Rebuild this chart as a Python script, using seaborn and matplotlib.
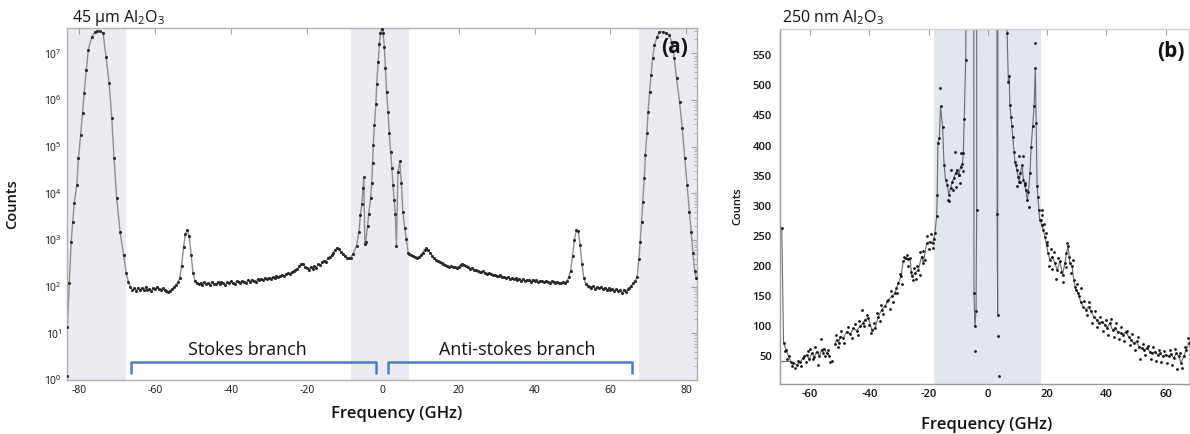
import numpy as np
import pandas as pd
import matplotlib
matplotlib.use("Agg")
import matplotlib.pyplot as plt
import seaborn as sns

# ---------------- (a) 45 um Al2O3 : full Brillouin spectrum (log counts) ----------------
laser_l_x = [-83.3, -83.1, -82.6, -82.1, -81.7, -81.3, -80.6, -80.2, -79.6, -79.1, -78.7,
             -78.1, -77.6, -76.7, -75.8, -75.2, -74.6, -73.7, -72.9, -72.1, -71.4, -70.8,
             -70.1, -69.2, -68.3, -67.6, -67.0]
laser_l_y = [1.2, 14, 120, 900, 2400, 6300, 1.5e4, 5.6e4, 1.8e5, 5.2e5, 1.4e6,
             4.5e6, 1.2e7, 2.2e7, 2.9e7, 3.0e7, 3.0e7, 2.75e7, 8.3e6, 2.3e6, 4.1e5, 5.6e4,
             7.8e3, 1.45e3, 470, 200, 123]

stokes_x = list(np.arange(-66.5, -8.9, 0.5))
stokes_y = [98, 85, 92, 80, 95, 84, 93, 86, 97, 83, 90, 82, 94, 88, 99, 90, 87, 92, 84, 80,
            78, 82, 90, 97, 110, 125, 150, 280, 700, 1350, 1650, 1200, 480, 200, 135, 118,
            112, 120, 108, 124, 115, 121, 110, 126, 117, 112, 123, 114, 128, 119, 108, 125,
            118, 130, 121, 115, 132, 124, 119, 135, 127, 122, 138, 129, 141, 133, 127, 145,
            137, 148, 140, 152, 144, 156, 149, 162, 155, 168, 160, 172, 178, 170, 186, 195,
            188, 205, 214, 226, 245, 280, 310, 300, 270, 248, 232, 262, 240, 275, 255, 300,
            285, 330, 360, 345, 410, 440, 470, 540, 620, 690, 640, 560, 500, 450, 420, 405]

rayleigh_x = [-8.5, -7.8, -6.9, -6.3, -5.9, -5.5, -5.2, -5.0, -4.7, -4.5, -4.0, -3.7, -3.2,
              -2.9, -2.7, -2.5, -2.2, -1.8, -1.6, -1.2, -0.9, -0.6, -0.3, 0.1, 0.4, 0.7,
              1.0, 1.4, 1.7, 2.1, 2.4, 2.7, 3.0, 3.3, 3.6, 4.0, 4.5, 4.9, 5.3, 5.8, 6.2, 6.7]
rayleigh_y = [420, 510, 760, 1450, 3400, 6000, 1.3e4, 2.2e4, 830, 900, 2000, 3700, 7800,
              1.7e4, 4.4e4, 1.07e5, 2.9e5, 8.1e5, 2.2e6, 6.6e6, 1.6e7, 2.75e7, 3.4e7, 2.75e7,
              1.4e7, 4.9e6, 1.5e6, 5.5e5, 2.0e5, 7.6e4, 3.5e4, 1.5e4, 7100, 3700, 760,
              2.8e4, 4.9e4, 1.7e4, 3900, 1800, 1070, 540]

antistokes_x = list(np.arange(7.0, 66.6, 0.5))
antistokes_y = [500, 480, 450, 430, 415, 440, 470, 540, 620, 660, 610, 530, 460, 410, 380,
                350, 335, 320, 300, 290, 278, 268, 275, 258, 262, 248, 270, 295, 305, 290,
                275, 258, 245, 252, 232, 225, 218, 210, 205, 212, 198, 190, 196, 184, 178,
                182, 172, 168, 175, 160, 163, 150, 158, 146, 152, 143, 150, 138, 148, 135,
                145, 131, 142, 137, 129, 140, 133, 138, 126, 135, 130, 124, 133, 127, 122,
                131, 125, 120, 128, 122, 118, 126, 121, 130, 160, 220, 450, 1000, 1600, 1550,
                800, 300, 150, 115, 105, 100, 94, 103, 90, 98, 92, 99, 88, 95, 85, 93, 86, 91,
                82, 88, 80, 86, 72, 84, 76, 88, 95, 105, 118, 135]

laser_r_x = [67.0, 67.5, 67.8, 68.2, 68.5, 68.9, 69.2, 69.6, 69.9, 70.3, 70.7, 71.1, 71.6,
             72.2, 72.9, 73.8, 74.6, 75.5, 76.2, 76.8, 77.4, 78.2, 78.9, 79.6, 80.2, 80.8,
             81.3, 81.7, 82.2, 82.6]
laser_r_y = [160, 400, 890, 2400, 6500, 2.1e4, 6.6e4, 2.0e5, 5.5e5, 1.5e6, 3.5e6, 7.9e6,
             1.5e7, 2.2e7, 2.9e7, 2.9e7, 2.75e7, 2.5e7, 1.7e7, 7.9e6, 3.0e6, 9.1e5, 2.5e5,
             5.6e4, 1.5e4, 3900, 1450, 540, 220, 150]

shade_a = [(-90, -67.6), (-8.4, 6.8), (67.4, 90)]
stokes_span = [-66.3, -1.8]
antistokes_span = [1.3, 65.8]
freq_ticks_a = [-80, -60, -40, -20, 0, 20, 40, 60, 80]

# ---------------- (b) 250 nm Al2O3 : Brillouin spectrum (linear counts) ----------------
seg1_x = [-69.6, -69.0, -68.1, -67.3, -66.5, -65.7, -64.5, -63.4, -62.3, -61.2, -60.3,
          -59.5, -58.6, -57.8, -56.9, -56.1, -55.2, -54.4, -53.5]
seg1_y = [263, 71, 60, 49, 40, 38, 35, 40, 46, 52, 44, 54, 48, 57, 50, 60, 62, 54, 49]

seg2_x = [-51.6, -51.0, -50.4, -49.9, -48.8, -47.7, -46.5, -45.4, -44.3, -43.2, -42.3,
          -41.5, -40.4, -39.2, -38.1, -37.0, -35.9, -34.7, -33.6, -32.5, -31.4, -30.3,
          -29.3, -28.6, -27.7, -26.9, -26.3, -25.7, -24.6, -23.5, -22.4, -21.8, -20.7,
          -19.6, -18.7, -17.9, -17.3, -17.1, -16.9, -16.4, -16.0, -15.3, -14.8, -14.3,
          -13.7, -13.2, -12.6, -12.0, -11.5, -10.9, -10.4, -9.8, -9.2, -8.6, -8.3, -8.0,
          -7.5, -7.0, -5.0, -4.7, -4.4, -4.0, -3.8, -3.5, 2.9, 3.1, 3.3, 3.6, 6.2, 6.5,
          6.9, 7.2, 7.4, 7.8, 8.1, 8.4, 8.8, 9.1, 9.4, 9.8, 10.2, 10.6, 11.0, 11.5, 12.0,
          12.4, 12.8, 13.3, 13.7, 14.2, 14.6, 15.1, 15.6, 16.0, 16.3, 16.6, 17.2, 17.5,
          17.8, 18.1, 18.7, 19.2, 19.8, 20.3, 20.9, 21.8, 22.6, 23.4, 24.3, 25.2, 26.0,
          26.5, 27.1, 27.7, 28.4, 29.0, 29.7, 30.5, 31.3, 32.1, 33.1, 34.0, 34.8, 35.8,
          36.7, 37.5, 38.4, 39.4, 40.2, 41.1, 42.1, 43.0, 43.8, 44.8, 45.6, 46.5, 47.5,
          48.3, 49.2, 50.2, 51.0, 51.9, 52.8, 53.7, 54.6, 55.5, 56.4, 57.3, 58.2, 59.1,
          60.0, 61.0, 61.8, 62.7, 63.6, 64.5, 65.2, 66.1, 67.0, 67.9]
seg2_y = [70, 77, 72, 82, 80, 90, 86, 96, 92, 99, 104, 110, 113, 93, 96, 115, 127, 133,
          143, 149, 154, 171, 182, 207, 212, 211, 212, 182, 188, 193, 215, 204, 237, 240,
          237, 254, 282, 318, 404, 412, 465, 431, 368, 343, 335, 318, 329, 340, 346, 354,
          360, 351, 365, 370, 387, 445, 542, 900, 3000, 155, 99, 124, 293, 3000, 3000, 286,
          118, 3000, 3000, 587, 506, 516, 468, 448, 432, 415, 390, 373, 368, 359, 348, 340,
          354, 368, 343, 335, 326, 309, 323, 354, 398, 432, 465, 529, 437, 333, 293, 276,
          276, 268, 260, 248, 235, 221, 210, 215, 204, 193, 207, 185, 204, 221, 232, 204,
          199, 176, 160, 154, 140, 132, 127, 132, 124, 115, 110, 104, 107, 102, 96, 104, 93,
          96, 90, 88, 85, 90, 82, 77, 71, 74, 65, 63, 60, 63, 57, 54, 57, 52, 54, 49, 52,
          49, 53, 46, 54, 49, 38, 49, 60, 71]

flat_x = [-70.2, -67.3]
flat_y = [42, 42]

scatter_x = [-68.5, -67.8, -66.0, -65.0, -64.0, -63.0, -62.0, -61.5, -60.8, -60.0, -59.2,
             -58.3, -57.5, -56.5, -55.8, -55.0, -54.0, -53.2, -52.8, -51.3, -50.5, -49.5,
             -48.5, -47.2, -46.0, -45.0, -44.0, -43.5, -42.6, -41.8, -40.8, -40.0, -39.6,
             -38.6, -37.6, -36.6, -36.2, -35.3, -34.2, -33.2, -32.8, -32.0, -31.0, -30.6,
             -29.8, -29.0, -28.2, -27.3, -27.0, -26.0, -25.2, -25.0, -24.2, -23.8, -23.0,
             -22.8, -22.0, -21.3, -20.4, -20.0, -19.2, -18.4, -18.2,
             -16.2, -13.4, -13.0, -11.1, -10.8, -9.7, -9.1, -8.5, -9.4, -11.7, -12.4,
             -4.5, 3.5, 3.8, 9.7, 10.6, 11.0, 12.0, 12.5, 13.9, 15.9, 17.0, 18.3,
             18.4, 19.0, 19.6, 20.0, 20.6, 21.2, 21.6, 22.2, 23.0, 23.8, 24.6, 25.5, 26.2,
             26.8, 27.4, 28.0, 28.7, 29.3, 30.0, 30.9, 31.6, 32.4, 33.5, 34.3, 35.3, 36.2,
             37.0, 38.0, 38.8, 39.9, 40.6, 41.5, 42.5, 43.4, 44.2, 45.0, 46.0, 47.0, 48.0,
             48.8, 49.7, 50.6, 51.5, 52.3, 53.2, 54.2, 55.0, 55.9, 56.8, 57.7, 58.6, 59.6,
             60.5, 61.4, 62.2, 63.2, 64.0, 64.9, 65.6, 66.6, 67.4]
scatter_y = [58, 45, 33, 30, 42, 33, 50, 40, 58, 62, 45, 64, 35, 78, 55, 50, 60, 40, 42,
             85, 65, 92, 72, 98, 80, 103, 85, 108, 126, 100, 118, 102, 88, 104, 122, 108,
             135, 120, 142, 128, 157, 140, 163, 155, 186, 170, 214, 218, 200, 190, 176, 196,
             178, 200, 222, 185, 225, 210, 250, 228, 252, 230, 244,
             495, 310, 307, 390, 331, 351, 388, 357, 337, 326, 360,
             58, 83, 17, 332, 383, 340, 383, 338, 298, 570, 315, 292,
             285, 270, 255, 240, 200, 228, 195, 222, 178, 212, 190, 172, 198, 238, 214, 188,
             210, 165, 170, 150, 163, 142, 118, 140, 105, 125, 98, 115, 92, 110, 85, 112, 82,
             104, 78, 98, 75, 92, 68, 86, 60, 82, 45, 70, 52, 66, 45, 64, 42, 60, 40, 58, 38,
             60, 35, 62, 28, 55, 30, 65, 80]

shade_b = (-18.3, 18.0)
freq_ticks_b = [-60, -40, -20, 0, 20, 40, 60]
count_ticks_b = [50, 100, 150, 200, 250, 300, 350, 400, 450, 500, 550]

# ---------------- styling ----------------
sns.set_theme(style="white")
plt.rcParams["font.family"] = ["Open Sans", "DejaVu Sans"]
plt.rcParams["mathtext.fontset"] = "custom"
plt.rcParams["mathtext.rm"] = "Open Sans"
plt.rcParams["mathtext.it"] = "Open Sans:italic"
plt.rcParams["mathtext.bf"] = "Open Sans:bold"

W, H = 1190, 434
fig = plt.figure(figsize=(W / 100, H / 100), dpi=100)

def frac(x0, y0, x1, y1):
    return [x0 / W, 1 - y1 / H, (x1 - x0) / W, (y1 - y0) / H]

ax = fig.add_axes(frac(67, 28, 697, 380))
bx = fig.add_axes(frac(780, 29, 1189, 384))

# ---- panel (a)
spec_a = pd.DataFrame({
    "freq": laser_l_x + stokes_x + rayleigh_x + antistokes_x + laser_r_x,
    "counts": laser_l_y + stokes_y + rayleigh_y + antistokes_y + laser_r_y,
})
for lo, hi in shade_a:
    ax.axvspan(lo, hi, color="#eaecf2", lw=0, zorder=0)
ax.set_yscale("log")
sns.lineplot(data=spec_a, x="freq", y="counts", sort=False, estimator=None,
             color="#8e8e8e", lw=1.0, ax=ax, zorder=2)
sns.scatterplot(data=spec_a, x="freq", y="counts", s=5, color="#2a2a2a",
                linewidth=0, ax=ax, zorder=3)
ax.set_xlim(-83.2, 82.8)
ax.set_ylim(1.0, 3.5e7)
ax.set_xticks(freq_ticks_a)
ax.set_xticklabels([str(t) for t in freq_ticks_a])
ax.tick_params(axis="both", which="both", direction="in", top=True, right=True,
               colors="#a0a0a0", labelcolor="#111111", labelsize=7.5)
ax.tick_params(axis="both", which="major", length=4, width=0.8)
ax.tick_params(axis="y", which="minor", length=2, width=0.6)
ax.yaxis.set_major_locator(matplotlib.ticker.LogLocator(base=10, numticks=10))
ax.yaxis.set_minor_locator(matplotlib.ticker.LogLocator(base=10, subs=np.arange(2, 10), numticks=10))
for s in ax.spines.values():
    s.set_color("#b0b0b0")
    s.set_linewidth(1.0)
ax.set_xlabel("Frequency (GHz)", fontsize=12, fontweight="semibold", color="#111111")
ax.set_ylabel("Counts", fontsize=10.5, fontweight="semibold", color="#111111")
ax.xaxis.set_label_coords(0.524, -0.074)
ax.yaxis.set_label_coords(-0.076, 0.5)

# branch brackets
bracket_color = "#4a7fc1"
for (x0, x1) in (stokes_span, antistokes_span):
    ax.plot([x0, x0, x1, x1], [1.4, 2.45, 2.45, 1.4], color=bracket_color, lw=1.8,
            solid_joinstyle="round", solid_capstyle="round", zorder=4)
ax.text(np.mean(stokes_span) - 1.5, 4.4, "Stokes branch", ha="center", va="center",
        fontsize=13, color="#111111")
ax.text(np.mean(antistokes_span) + 1.8, 4.4, "Anti-stokes branch", ha="center",
        va="center", fontsize=13, color="#111111")
ax.text(0.986, 0.946, "(a)", transform=ax.transAxes, ha="right", va="center",
        fontsize=15, fontweight="bold", color="#111111")
fig.text(72 / W, 1 - 22 / H, r"45 μm Al$_\mathregular{2}$O$_\mathregular{3}$",
         ha="left", va="baseline", fontsize=11.5, color="#111111")

# ---- panel (b)
bx.axvspan(*shade_b, color="#e1e6ef", lw=0, zorder=0)
seg1 = pd.DataFrame({"freq": seg1_x, "counts": seg1_y})
seg2 = pd.DataFrame({"freq": seg2_x, "counts": seg2_y})
flat = pd.DataFrame({"freq": flat_x, "counts": flat_y})
dots = pd.DataFrame({"freq": scatter_x, "counts": scatter_y})
for seg in (seg1, seg2, flat):
    sns.lineplot(data=seg, x="freq", y="counts", sort=False, estimator=None,
                 color="#6a6a6a", lw=0.8, ax=bx, zorder=2)
for seg in (seg1, seg2, dots):
    sns.scatterplot(data=seg, x="freq", y="counts", s=4, color="#111111",
                    linewidth=0, ax=bx, zorder=3)
bx.set_xlim(-70.2, 67.9)
bx.set_ylim(3, 594)
bx.set_xticks(freq_ticks_b)
bx.set_xticklabels([str(t) for t in freq_ticks_b])
bx.set_yticks(count_ticks_b)
bx.set_yticklabels([str(t) for t in count_ticks_b])
bx.tick_params(axis="x", which="major", direction="in", top=True, length=4, width=0.8,
               colors="#a0a0a0", labelcolor="#111111", labelsize=8)
bx.tick_params(axis="y", which="major", direction="in", length=0, labelsize=8,
               labelcolor="#111111", pad=6)
for lbl in bx.get_xticklabels() + bx.get_yticklabels():
    lbl.set_fontweight("semibold")
for side, s in bx.spines.items():
    s.set_linewidth(1.0)
    s.set_color("#9a9a9a" if side in ("left", "bottom") else "#d0d0d0")
bx.set_xlabel("Frequency (GHz)", fontsize=12, fontweight="semibold", color="#111111")
bx.set_ylabel("Counts", fontsize=8, fontweight="semibold", color="#111111")
bx.xaxis.set_label_coords(0.506, -0.094)
bx.yaxis.set_label_coords(-0.090, 0.5)
bx.text(0.99, 0.938, "(b)", transform=bx.transAxes, ha="right", va="center",
        fontsize=15, fontweight="bold", color="#111111")
fig.text(782 / W, 1 - 22 / H, r"250 nm Al$_\mathregular{2}$O$_\mathregular{3}$",
         ha="left", va="baseline", fontsize=11.5, color="#111111")

fig.savefig("out.png", dpi=100)
